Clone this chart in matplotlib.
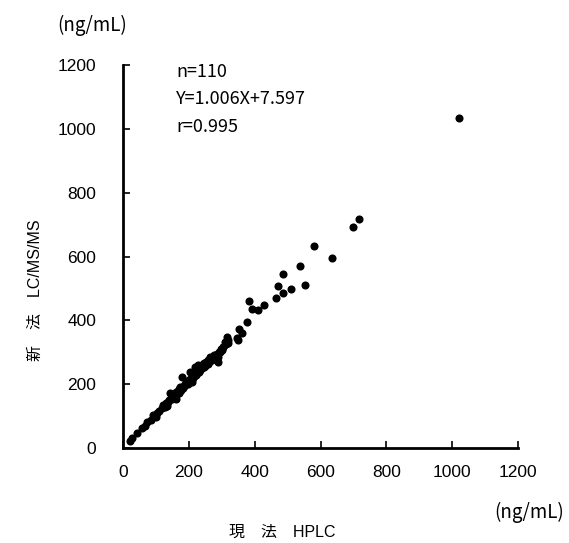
import matplotlib
matplotlib.use("Agg")
import matplotlib.pyplot as plt

plt.rcParams['font.family'] = ['Noto Sans CJK JP', 'DejaVu Sans']

x_hplc = [22, 28, 42, 58, 68, 75, 85, 93, 100, 105, 110, 118, 123, 128, 132, 135, 138, 140,
          143, 148, 150, 152, 155, 158, 160, 162, 163, 165, 168, 170, 172, 174, 175, 178, 179,
          180, 182, 185, 188, 190, 192, 195, 198, 200, 204, 205, 209, 210, 213, 215, 219, 220,
          222, 225, 229, 230, 232, 235, 238, 240, 242, 245, 248, 250, 252, 255, 258, 260, 262,
          265, 268, 270, 275, 278, 280, 285, 290, 290, 292, 295, 298, 300, 303, 305, 310, 312,
          315, 318, 320, 346, 350, 354, 361, 377, 382, 393, 410, 430, 466, 471, 486, 487, 511,
          538, 552, 580, 634, 699, 716, 1020]
y_lcms = [23, 30, 46, 62, 70, 82, 88, 103, 98, 110, 115, 125, 135, 130, 140, 132, 145, 150,
          171, 160, 155, 165, 158, 170, 162, 175, 155, 168, 180, 172, 185, 192, 178, 183, 223,
          190, 188, 195, 200, 196, 205, 210, 202, 208, 239, 215, 208, 220, 218, 225, 255, 230,
          228, 235, 260, 240, 238, 245, 258, 250, 262, 265, 255, 258, 268, 270, 262, 275, 270,
          286, 280, 275, 285, 290, 282, 295, 286, 270, 300, 302, 310, 308, 317, 315, 333, 325,
          349, 330, 340, 345, 340, 373, 360, 394, 461, 435, 431, 449, 470, 508, 545, 487, 499,
          571, 512, 633, 596, 692, 717, 1035]

ticks = [0, 200, 400, 600, 800, 1000, 1200]
stats = ["n=110", "Y=1.006X+7.597", "r=0.995"]

fig = plt.figure(figsize=(5.69, 5.43), dpi=100)
ax = fig.add_axes([0.2157, 0.175, 0.911 - 0.2157, 0.880 - 0.175])
ax.scatter(x_hplc, y_lcms, s=34, color='black', linewidths=0, zorder=3, clip_on=False)

ax.set_xlim(0, 1200)
ax.set_ylim(0, 1200)
ax.set_xticks(ticks)
ax.set_yticks(ticks)
tick_font = ['Liberation Sans', 'DejaVu Sans']
ax.set_xticklabels([str(t) for t in ticks], fontsize=12.5, family=tick_font)
ax.set_yticklabels([str(t) for t in ticks], fontsize=12.5, family=tick_font)
ax.tick_params(axis='x', direction='in', length=5, width=1.2, pad=12)
ax.tick_params(axis='y', direction='in', length=5, width=1.2, pad=19)
for s in ['top', 'right']:
    ax.spines[s].set_visible(False)
for s in ['left', 'bottom']:
    ax.spines[s].set_linewidth(2)

# stats annotation
ys = [72, 99, 127]
for txt, yp in zip(stats, ys):
    fig.text(176 / 569, 1 - yp / 543, txt, fontsize=13, ha='left', va='center')

fig.text(92 / 569, 1 - 25 / 543, "(ng/mL)", fontsize=13.5, ha='center', va='center')
fig.text(529 / 569, 1 - 512 / 543, "(ng/mL)", fontsize=13.5, ha='center', va='center')
lab_font = ['Liberation Sans', 'Noto Sans CJK JP']
fig.text(282 / 569, 1 - 532 / 543, "現　法　HPLC", fontsize=11.5, ha='center', va='center',
         family=lab_font)
fig.text(35 / 569, 1 - 290 / 543, "新　法　LC/MS/MS", fontsize=11.5, ha='center', va='center',
         rotation=90, family=lab_font)

fig.savefig("out.png", dpi=100)
